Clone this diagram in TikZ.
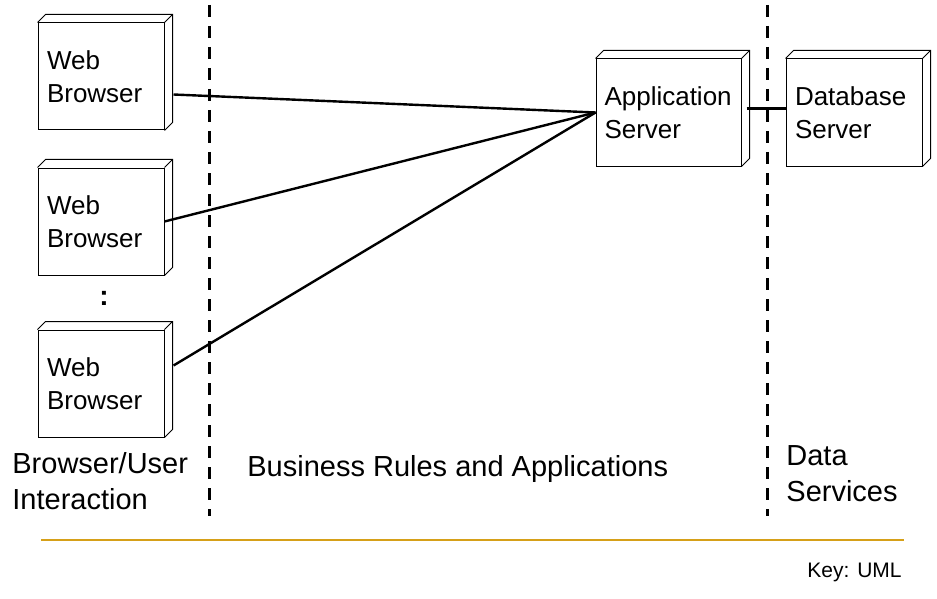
\documentclass[tikz,border=0pt]{standalone}
\usepackage{fontspec}
\setmainfont{Liberation Sans}
\usetikzlibrary{positioning}

\definecolor{keyline}{RGB}{214,160,24}

\tikzset{
  umlnode/.style={draw, line width=0.5pt, minimum height=53.5pt, text width=54pt, inner sep=4.5pt, align=left, font=\fontsize{13}{16.5}\selectfont},
  link/.style={line width=1.2pt},
  tierline/.style={line width=1.5pt, dash pattern=on 6pt off 4.5pt},
  tierlabel/.style={inner sep=0pt, align=left, font=\fontsize{14.5}{18}\selectfont},
}

\begin{document}
\begin{tikzpicture}[x=0.5pt,y=-0.5pt,node distance=22pt]
\useasboundingbox (0,0) rectangle (937,599);

\node (wb1) [umlnode] at (101,76.5) {Web\\Browser};
\node (wb2) [umlnode, below=18.5pt of wb1] {Web\\Browser};
\node (wb3) [umlnode, below=27pt of wb2] {Web\\Browser};
\node (more) [font=\bfseries\fontsize{14}{16}\selectfont] at (104,298) {:};
\node (app) [umlnode, text width=64pt, inner sep=4.25pt] at (668.5,112.5) {Application\\Server};
\node (db) [umlnode, text width=59pt, right=of app] {Database\\Server};

% 3d depth of the uml nodes
\foreach \n in {wb1,wb2,wb3,app,db}
  \draw[line width=0.5pt] (\n.north west) -- ++(8,-8) -- ([shift={(8,-8)}]\n.north east)
    -- ([shift={(8,-8)}]\n.south east) -- (\n.south east)
    (\n.north east) -- ++(8,-8);

\draw[link] ([xshift=4.5pt,yshift=-9pt]wb1.east) -- (app.west);
\draw[link] (wb2.east) -- (app.west);
\draw[link] ([xshift=4.5pt,yshift=9pt]wb3.east) -- (app.west);
\draw[link] ([xshift=2.5pt,yshift=2pt]app.east) -- ([yshift=2pt]db.west);

% tiers
\coordinate (t1top) at (209,5);
\coordinate (t1bot) at (209,516);
\coordinate (t2top) at (767,5);
\coordinate (t2bot) at (767,516);
\draw[tierline] (t1top) -- (t1bot);
\draw[tierline] (t2top) -- (t2bot);

\node (lbl1) [tierlabel, anchor=base west] at (12,509) {Browser/User\\Interaction};
\node (lbl2) [tierlabel, anchor=base west] at (247,476) {Business Rules and Applications};
\node (lbl3) [tierlabel, anchor=base west] at (786,501) {Data\\Services};

\coordinate (keyL) at (41,540);
\coordinate (keyR) at (904,540);
\draw[keyline, line width=1pt] (keyL) -- (keyR);
\node (key) [inner sep=0pt, anchor=base east, font=\fontsize{10.5}{12}\selectfont] at (902,577) {Key: UML};
\end{tikzpicture}
\end{document}
